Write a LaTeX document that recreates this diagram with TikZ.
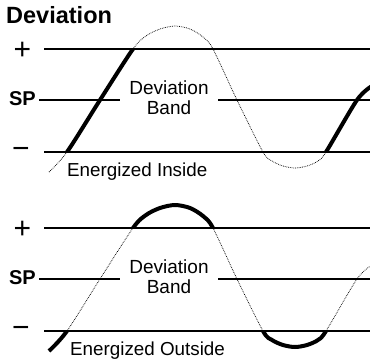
\documentclass[tikz,border=0pt]{standalone}
\usepackage{fontspec}
\setmainfont{Liberation Sans}
\usepackage{tikz}

% the process value, one period and a bit
\newcommand{\devwave}{plot[smooth] coordinates {(49,172) (67,152) (100,100) (133,49) (146,36) (160,29) (175,26) (190,29) (203,37) (213,49) (237,100) (263,152) (272,161) (283,166) (295,168) (307,166) (318,161) (326,152) (357,100) (372,86)}}

\begin{document}
\begin{tikzpicture}[x=1pt,y=-1pt,
    level/.style={line width=1.6pt},
    wavedot/.style={densely dotted,line width=0.75pt},
    wavethick/.style={line width=4pt},
    sign/.style={font=\fontsize{30}{30}\selectfont,inner sep=0pt},
    splbl/.style={font=\bfseries\fontsize{20}{20}\selectfont,inner sep=0pt,anchor=east},
    txt/.style={font=\fontsize{18.8}{20}\selectfont,inner sep=0pt,anchor=base west},
    bandlbl/.style={font=\fontsize{19}{20}\selectfont,align=center,inner xsep=9.5pt,inner ysep=0pt}]
\useasboundingbox (0,0) rectangle (370,360);

\node[font=\bfseries\fontsize{23.5}{24}\selectfont,inner sep=0pt,anchor=base west] (title) at (6,23) {Deviation};

% ---------- Energized Inside ----------
\node[sign] (plusA) at (22.5,51) {+};
\node[splbl] (spA) at (36,99) {SP};
\node[sign] (minusA) at (21,153) {−};

\foreach \y in {49,152}{
    \draw[level] (44,\y) -- (370,\y);
}
\coordinate (spAl) at (39,100);
\coordinate (spAr) at (370,100);
\node[bandlbl] (bandA) at (169,98) {Deviation\\Band};
\draw[level] (spAl) -- (bandA.west |- spAl);
\draw[level] (bandA.east |- spAr) -- (spAr);

\node[txt] (inside) at (67,176) {Energized Inside};

\draw[wavedot] \devwave;
\begin{scope}
    \clip (60,49) rectangle (140,152) (300,49) rectangle (372,152);
    \draw[wavethick] \devwave;
\end{scope}

% ---------- Energized Outside ----------
\begin{scope}[shift={(0,179)}]
\node[sign] (plusB) at (22.5,51) {+};
\node[splbl] (spB) at (36,99) {SP};
\node[sign] (minusB) at (21,153) {−};

\foreach \y in {49,152}{
    \draw[level] (44,\y) -- (370,\y);
}
\coordinate (spBl) at (39,100);
\coordinate (spBr) at (370,100);
\node[bandlbl] (bandB) at (169,98) {Deviation\\Band};
\draw[level] (spBl) -- (bandB.west |- spBl);
\draw[level] (bandB.east |- spBr) -- (spBr);

\node[txt] (outside) at (70,176) {Energized Outside};

\draw[wavedot] \devwave;
\begin{scope}
    \clip (40,-10) rectangle (372,49) (40,152) rectangle (372,190);
    \draw[wavethick] \devwave;
\end{scope}
\end{scope}

\end{tikzpicture}
\end{document}
